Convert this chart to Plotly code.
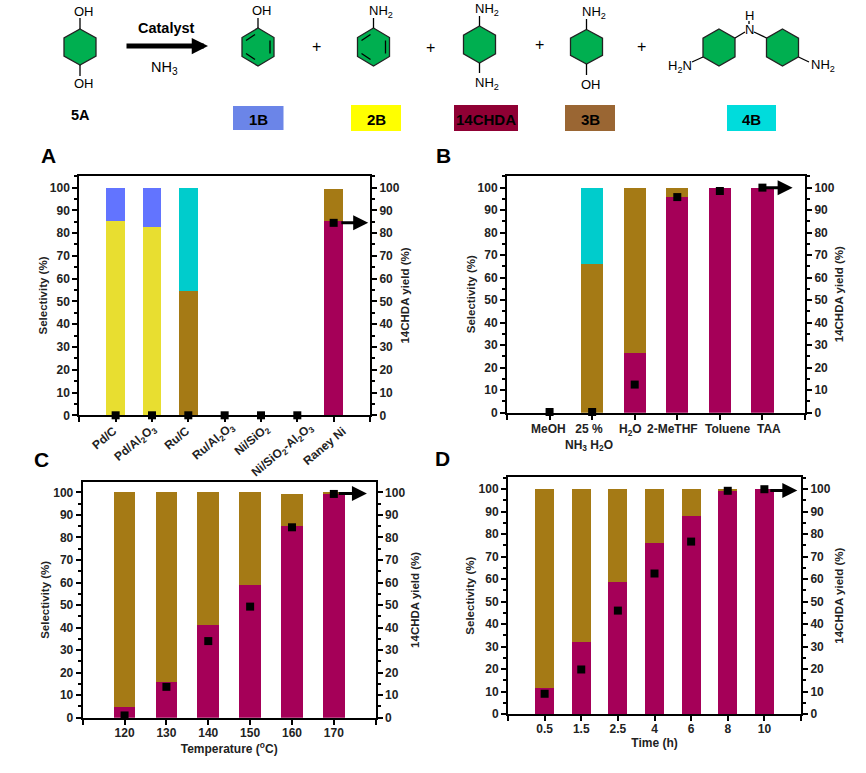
import plotly.graph_objects as go

FONT = "Liberation Sans"
BLUE, YELLOW, BROWN, TEAL, MAGENTA = "#6274FF", "#E8DE30", "#A57A15", "#00CCCC", "#A50058"

# ---------- data ----------
cat_a = ["Pd/C", "Pd/Al<sub>2</sub>O<sub>3</sub>", "Ru/C", "Ru/Al<sub>2</sub>O<sub>3</sub>", "Ni/SiO<sub>2</sub>",
         "Ni/SiO<sub>2</sub>-Al<sub>2</sub>O<sub>3</sub>", "Raney Ni"]
a_14chda = [0, 0, 0, 0, 0, 0, 85.2]
a_2b = [85.3, 82.5, 0, 0, 0, 0, 0]
a_3b = [0, 0, 54.5, 0, 0, 0, 14.3]
a_1b = [14.7, 17.5, 0, 0, 0, 0, 0]
a_4b = [0, 0, 45.5, 0, 0, 0, 0]
a_yield = [0, 0, 0, 0, 0, 0, 84.5]
a_label_shift = [-11, -16, -11, -11, -8, -14, -9]
a_label_drop = [23, 28, 23, 27, 25, 35, 31]

cat_b = ["MeOH", "25 %<br>NH<sub>3</sub> H<sub>2</sub>O", "H<sub>2</sub>O", "2-MeTHF", "Toluene", "TAA"]
b_14chda = [0, 0, 26.5, 96, 100, 100]
b_3b = [0, 66, 73.5, 4, 0, 0]
b_4b = [0, 34, 0, 0, 0, 0]
b_yield = [0.3, 0.3, 12.5, 95.8, 98.5, 100]
b_label_shift = [-1, -3, -4, -5, 8, 7]

cat_c = ["120", "130", "140", "150", "160", "170"]
c_14chda = [4.7, 16, 41, 58.8, 85, 99.3]
c_3b = [95.3, 84, 59, 41.2, 14.4, 0.7]
c_yield = [1, 13.7, 34, 49.3, 84.5, 99.3]

cat_d = ["0.5", "1.5", "2.5", "4", "6", "8", "10"]
d_14chda = [11.7, 32.2, 58.8, 76, 88, 99.3, 100]
d_3b = [88.3, 67.8, 41.2, 24, 12, 0.7, 0]
d_yield = [9, 19.8, 46, 62.5, 76.7, 99.3, 100]

panels = [
    dict(n=1, box=(79.3, 370, 175.7, 415.3), top=105.2, cats=cat_a, y=a_yield, sl=0, sr=2,
         arrow=(7.17, 7.95, 84.5),
         series=[(a_14chda, MAGENTA), (a_2b, YELLOW), (a_3b, BROWN), (a_1b, BLUE), (a_4b, TEAL)], xt=None),
    dict(n=2, box=(507, 805, 175.7, 412.7), top=105.3, cats=cat_b, y=b_yield, sl=0, sr=1,
         arrow=(6.04, 6.71, 100),
         series=[(b_14chda, MAGENTA), (b_3b, BROWN), (b_4b, TEAL)], xt=None),
    dict(n=3, box=(82.7, 375.7, 482, 717.7), top=104.6, cats=cat_c, y=c_yield, sl=1, sr=7,
         arrow=(6.08, 6.79, 99.5),
         series=[(c_14chda, MAGENTA), (c_3b, BROWN)], xt="Temperature (<sup>o</sup>C)"),
    dict(n=4, box=(508, 801, 477.3, 714), top=105.3, cats=cat_d, y=d_yield, sl=2, sr=5,
         arrow=(7.12, 7.9, 99.4),
         series=[(d_14chda, MAGENTA), (d_3b, BROWN)], xt="Time (h)"),
]

W, H = 866, 773
fig = go.Figure()
layout = {}
annotations = []
shapes = []
AX = dict(showgrid=False, zeroline=False, showline=True, linecolor="black", linewidth=2,
          tickcolor="black", tickwidth=2, ticklen=5, ticks="outside", automargin=False,
          tickfont=dict(family=FONT, size=12, color="#222222"))


def bold(s):
    return f"<b>{s}</b>"


for p in panels:
    k = 2 * p["n"]
    xa, ya, ya2 = f"x{k}", f"y{k}", f"y{k + 1}"
    l, r, t, b = p["box"]
    xs = list(range(1, len(p["cats"]) + 1))
    for vals, col in p["series"]:
        fig.add_trace(go.Bar(x=xs, y=vals, width=0.52, marker=dict(color=col, line=dict(width=0)),
                             xaxis=xa, yaxis=ya, showlegend=False))
    fig.add_trace(go.Scatter(x=xs, y=p["y"], mode="markers", cliponaxis=False,
                             marker=dict(symbol="square", size=8, color="black"),
                             xaxis=xa, yaxis=ya2, showlegend=False))
    n = len(xs)
    x_kw = dict(AX)
    x_kw.update(domain=[l / W, r / W], range=[0, n + 1], anchor=ya, mirror=True,
                tickmode="array", tickvals=xs, ticktext=[bold(c) for c in p["cats"]],
                minor=dict(tickmode="array", tickvals=[0, n + 1], ticks="outside", ticklen=5, tickwidth=2,
                           tickcolor="black"))
    if p["n"] in (1, 2):
        x_kw.update(showticklabels=False)
    else:
        x_kw.update(ticklabelstandoff=-2)
    if p["xt"]:
        x_kw.update(title=dict(text=bold(p["xt"]), font=dict(family=FONT, size=12, color="#222222"), standoff=3))
    y_common = dict(AX)
    y_common.update(domain=[1 - b / H, 1 - t / H], range=[0, p["top"]], tick0=0, dtick=10,
                    tickprefix="<b>", ticksuffix="</b>",
                    minor=dict(dtick=5, ticks="outside", ticklen=3, tickwidth=1.5, tickcolor="black"))
    yl = dict(y_common)
    yl.update(anchor=xa, side="left",
              title=dict(text=bold("Selectivity (%)"), font=dict(family=FONT, size=11.5, color="#222222"),
                         standoff=p["sl"]))
    yr = dict(y_common)
    yr.update(anchor=xa, side="right", overlaying=ya,
              title=dict(text=bold("14CHDA yield (%)"), font=dict(family=FONT, size=11.5, color="#222222"),
                         standoff=p["sr"]))
    layout[f"xaxis{k}"] = x_kw
    layout[f"yaxis{k}"] = yl
    layout[f"yaxis{k + 1}"] = yr
    ax0, ax1, ay = p["arrow"]
    annotations.append(dict(xref=xa, yref=ya, axref=xa, ayref=ya, x=ax1, y=ay, ax=ax0, ay=ay, text="",
                            showarrow=True, arrowhead=2, arrowsize=1.0, arrowwidth=3, arrowcolor="black"))
    if p["n"] == 1:
        for x, c, s, d in zip(xs, p["cats"], a_label_shift, a_label_drop):
            annotations.append(dict(xref=xa, yref="paper", x=x, y=1 - (b + d) / H, xshift=s, yanchor="middle",
                                    xanchor="center", textangle=-40, showarrow=False, text=bold(c),
                                    font=dict(family=FONT, size=12, color="#222222")))
    if p["n"] == 2:
        for x, c, s in zip(xs, p["cats"], b_label_shift):
            annotations.append(dict(xref=xa, yref="paper", x=x, y=1 - (b + 7) / H, xshift=s, yanchor="top",
                                    showarrow=False, text=bold(c),
                                    font=dict(family=FONT, size=12, color="#222222")))

# ---------- reaction scheme, on a hidden whole-page axis pair ----------
SX, SY = "x10", "y10"
layout["xaxis10"] = dict(domain=[0, 1], range=[0, W], visible=False, anchor=SY, fixedrange=True)
layout["yaxis10"] = dict(domain=[0, 1], range=[H, 0], visible=False, anchor=SX, fixedrange=True)


def line(x0, y0, x1, y1, w=1.3):
    shapes.append(dict(type="line", xref=SX, yref=SY, x0=x0, y0=y0, x1=x1, y1=y1,
                       line=dict(color="black", width=w), layer="above"))


def text(x, y, s, size=13, b=False):
    annotations.append(dict(xref=SX, yref=SY, x=x, y=y, text=bold(s) if b else s, showarrow=False,
                            font=dict(family=FONT, size=size, color="black")))


def hexagon(cx, top, bot, hw=16, aromatic=False):
    h = bot - top
    pts = [(cx, top), (cx + hw, top + h / 4), (cx + hw, bot - h / 4), (cx, bot), (cx - hw, bot - h / 4),
           (cx - hw, top + h / 4)]
    path = "M " + " L ".join(f"{a},{c}" for a, c in pts) + " Z"
    shapes.append(dict(type="path", xref=SX, yref=SY, path=path, fillcolor="#00AF50",
                       line=dict(color="#222222", width=1.3), layer="above"))
    if aromatic:
        line(cx + hw - 4, top + h / 4 + 3, cx + hw - 4, bot - h / 4 - 3)
        line(cx - hw + 4, top + h / 4 + 3, cx - 3, top + 6.5)
        line(cx - hw + 4, bot - h / 4 - 3, cx - 3, bot - 6.5)


# 5A
hexagon(80, 29, 65)
line(80, 29, 80, 18); line(80, 65, 80, 76)
text(84, 11, "OH"); text(84, 83, "OH")
# arrow
annotations.append(dict(xref=SX, yref=SY, axref=SX, ayref=SY, x=208, y=46, ax=125, ay=46, text="",
                        showarrow=True, arrowhead=2, arrowsize=0.65, arrowwidth=5, arrowcolor="black"))
text(166, 28, "Catalyst", 14.5, True)
text(164, 68, "NH<sub>3</sub>", 14.5)
# phenol
hexagon(258, 28, 66, aromatic=True)
line(258, 28, 258, 18); text(262, 10, "OH")
text(316, 46, "+", 16)
# aniline
hexagon(373.5, 28, 66, aromatic=True)
line(373.5, 28, 373.5, 18); text(381, 11, "NH<sub>2</sub>")
text(430, 47, "+", 16)
# 14CHDA
hexagon(479.5, 26, 63)
line(479.5, 26, 479.5, 16); line(479.5, 63, 479.5, 73)
text(487, 9, "NH<sub>2</sub>"); text(487, 83, "NH<sub>2</sub>")
text(539, 44, "+", 16)
# 3B
hexagon(586.5, 29.5, 64)
line(586.5, 29.5, 586.5, 19); line(586.5, 64, 586.5, 75)
text(594, 12, "NH<sub>2</sub>"); text(591, 84, "OH")
text(641, 46, "+", 16)
# 4B
hexagon(719, 29, 66); hexagon(782.5, 29, 66)
line(735, 38, 745, 32); line(766.5, 38, 754, 32); line(749, 24, 749, 21)
text(749, 15, "H"); text(749, 29, "N")
line(703, 57, 692, 62); line(798.5, 57, 809, 62)
text(680, 66, "H<sub>2</sub>N"); text(822.5, 65, "NH<sub>2</sub>")

# label chips
text(80.5, 115, "5A", 14.5, True)
chip_labels = ["1B", "2B", "14CHDA", "3B", "4B"]
chip_colors = ["#6B85E8", "#FFFF00", "#8F0034", "#9A6633", "#00DCDC"]
chip_boxes = [(233, 283.5, 106, 130), (351, 401, 105, 131), (454, 518, 105, 131), (565, 615, 105, 131),
              (727, 776, 105, 131)]
for lab, col, (x0, x1, y0, y1) in zip(chip_labels, chip_colors, chip_boxes):
    shapes.append(dict(type="rect", xref=SX, yref=SY, x0=x0, x1=x1, y0=y0, y1=y1, fillcolor=col,
                       line=dict(width=0), layer="below"))
    text((x0 + x1) / 2, (y0 + y1) / 2 + 1, lab, 15, True)

# panel letters
for s, x, y in [("A", 48, 155), ("B", 443, 155), ("C", 41, 459), ("D", 442, 458)]:
    text(x, y, s, 21, True)

# keep the hidden axis pair alive with an invisible trace
fig.add_trace(go.Scatter(x=[0], y=[0], mode="markers", marker=dict(opacity=0), xaxis=SX, yaxis=SY,
                         showlegend=False, hoverinfo="skip"))

fig.update_layout(width=W, height=H, margin=dict(l=0, r=0, t=0, b=0), barmode="stack",
                  plot_bgcolor="rgba(0,0,0,0)", paper_bgcolor="white", font=dict(family=FONT), showlegend=False,
                  annotations=annotations, shapes=shapes, **layout)
fig.write_html("out.html", config=dict(displayModeBar=False),
               post_script="document.body.style.margin='0';document.body.style.overflow='hidden';")
